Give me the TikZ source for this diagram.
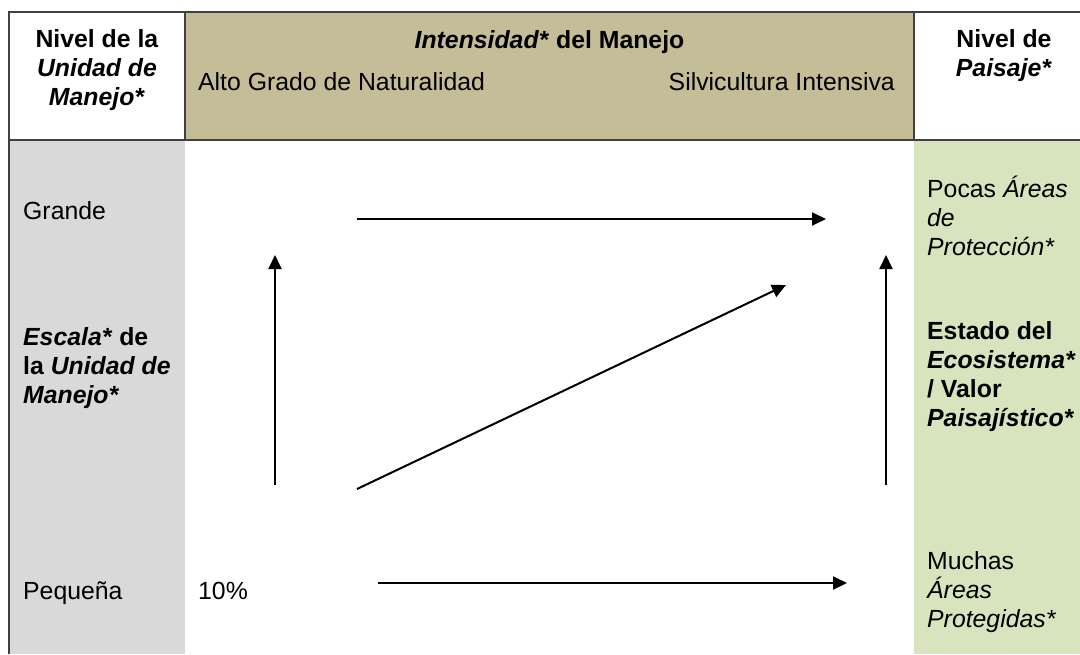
\documentclass[tikz,border=0pt]{standalone}
\usepackage{fontspec}
\setmainfont{Liberation Sans}
\usetikzlibrary{arrows.meta}
\definecolor{tanhd}{HTML}{C4BD97}
\definecolor{grayc}{HTML}{D9D9D9}
\definecolor{greenc}{HTML}{D7E4BD}
\definecolor{rulec}{HTML}{404040}
\tikzset{
  txt/.style={inner sep=0pt, font=\fontsize{24.8}{28.7}\selectfont},
  lft/.style={txt, anchor=base west, align=left},
  ctr/.style={txt, anchor=base, align=center},
  arr/.style={line width=2pt, -{Triangle[length=14pt,width=13pt]}},
  rule/.style={draw=rulec, line width=1.3pt}
}
\begin{document}
\begin{tikzpicture}[x=1pt,y=-1pt]
\useasboundingbox (0,0) rectangle (1080,654);
% fills
\fill[tanhd] (185,12) rectangle (914,140);
\fill[grayc] (9,140) rectangle (185,654);
\fill[greenc] (914,140) rectangle (1080,654);
% rules
\draw[rule] (1080,12) -- (9,12) -- (9,654);
\draw[rule] (9,140) -- (1080,140);
\draw[rule] (185,12) -- (185,140);
\draw[rule] (914,12) -- (914,140);
% header texts (multi-line nodes anchored at last baseline)
\node[ctr] (h1) at (97,105) {\textbf{Nivel de la}\\\textbf{\textit{Unidad de}}\\\textbf{\textit{Manejo*}}};
\node[ctr] (h2) at (549.5,48) {\textbf{\textit{Intensidad*}} \textbf{del Manejo}};
\node[lft] (h3) at (198,90) {Alto Grado de Naturalidad};
\node[txt, anchor=base east] (h4) at (895,90) {Silvicultura Intensiva};
\node[ctr] (h5) at (1004,76) {\textbf{Nivel de}\\\textbf{\textit{Paisaje*}}};
% left column
\node[lft] (l1) at (23,219) {Grande};
\node[lft] (l2) at (23,403) {\textbf{\textit{Escala*}} \textbf{de}\\\textbf{la \textit{Unidad de}}\\\textbf{\textit{Manejo*}}};
\node[lft] (l3) at (23,599) {Pequeña};
\node[lft] (m1) at (198,599) {10\%};
% right column
\node[lft] (r1) at (927,255) {Pocas \textit{Áreas}\\\textit{de}\\\textit{Protección*}};
\node[lft] (r2) at (927,426) {\textbf{Estado del}\\\textbf{\textit{Ecosistema*}}\\\textbf{/ Valor}\\\textbf{\textit{Paisajístico*}}};
\node[lft] (r3) at (927,627) {Muchas\\\textit{Áreas}\\\textit{Protegidas*}};
% arrow end points
\coordinate (a1s) at (357,219);
\coordinate (a1e) at (826,219);
\coordinate (a2s) at (275,485);
\coordinate (a2e) at (275,255);
\coordinate (a3s) at (357,489);
\coordinate (a3e) at (786,285);
\coordinate (a4s) at (886,485);
\coordinate (a4e) at (886,255);
\coordinate (a5s) at (378,583);
\coordinate (a5e) at (847,583);
\draw[arr] (a1s) -- (a1e);
\draw[arr] (a2s) -- (a2e);
\draw[arr] (a3s) -- (a3e);
\draw[arr] (a4s) -- (a4e);
\draw[arr] (a5s) -- (a5e);
\end{tikzpicture}
\end{document}
